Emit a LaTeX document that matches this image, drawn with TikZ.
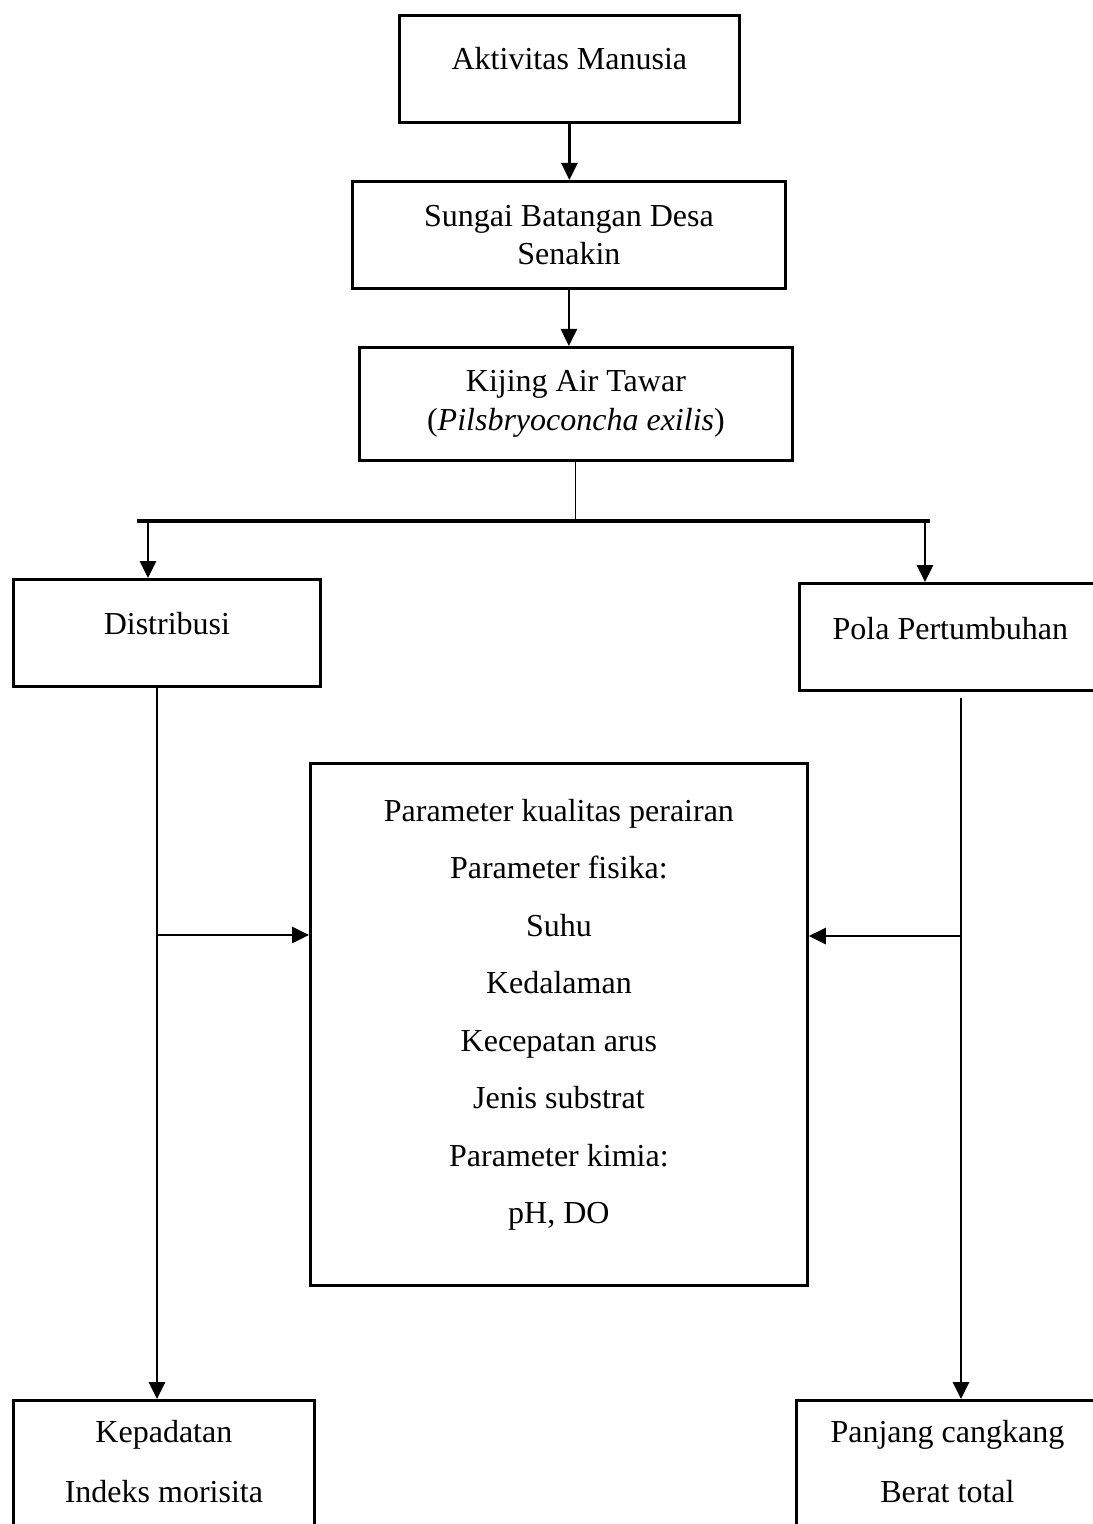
\documentclass[tikz,border=0pt]{standalone}
\usepackage{fontspec}
\setmainfont{Liberation Serif}
\usetikzlibrary{arrows.meta}
\usetikzlibrary{positioning}
\tikzset{
  % boxes of the scheme
  box/.style = {
    draw = black,
    line width = 1.4pt,
    rectangle,
    anchor = north west,
    inner sep = 0pt,
    align = center,
    font = \fontsize{16}{19}\selectfont
  },
  % path style with an arrow at its end
  arr/.style = {
    draw = black,
    line width = 1.4pt,
    -{Triangle[length=8.5pt,width=8pt]}
  },
  % path style with no arrows
  narr/.style = {
    draw = black,
    line width = 1.4pt
  },
  bar/.style = {
    draw = black,
    line width = 2pt
  }
}

\begin{document}
\begin{tikzpicture}[x=0.5pt, y=-0.5pt]
    \useasboundingbox (0,0) rectangle (1092,1524);

    \node[box, minimum width=170pt, minimum height=53.5pt, text depth=10.5pt]
      (aktivitas) at (398,14) {Aktivitas Manusia};
    \node[box, minimum width=216.5pt, minimum height=53.5pt]
      (sungai) at (351,180) {Sungai Batangan Desa\\Senakin};
    \node[box, minimum width=216.5pt, minimum height=56.5pt, font=\fontsize{16}{19.5}\selectfont]
      (kijing) at (358,346) {Kijing Air Tawar\\(\textit{Pilsbryoconcha exilis})};
    \node[box, minimum width=153.5pt, minimum height=53.5pt, text depth=10pt]
      (distribusi) at (12,578) {Distribusi};
    \node[box, minimum width=151pt, minimum height=53.5pt, text depth=8.5pt]
      (pola) at (798,582) {Pola Pertumbuhan};
    \node[box, minimum width=248.5pt, minimum height=261pt, text depth=13pt,
      font=\fontsize{16}{28.75}\selectfont]
      (param) at (309,762) {Parameter kualitas perairan\\Parameter fisika:\\Suhu\\Kedalaman\\Kecepatan arus\\Jenis substrat\\Parameter kimia:\\pH, DO};
    \node[box, minimum width=150.5pt, minimum height=75pt, text depth=14pt,
      font=\fontsize{16}{30}\selectfont]
      (kepadatan) at (12,1399) {Kepadatan\\Indeks morisita};
    \node[box, minimum width=151pt, minimum height=75pt, text depth=14pt,
      font=\fontsize{16}{30}\selectfont]
      (panjang) at (795,1399) {Panjang cangkang\\Berat total};

    \coordinate (split) at (574,521);
    \coordinate (bar-left) at (137,521);
    \coordinate (bar-right) at (930,521);
    \coordinate (to-distribusi) at (148,521);
    \coordinate (to-pola) at (925,521);
    \coordinate (left-top) at (157,685);
    \coordinate (left-mid) at (157,935);
    \coordinate (right-top) at (961,698);
    \coordinate (right-mid) at (961,936);

    \draw[arr] (aktivitas.south) -- (aktivitas.south |- sungai.north);
    \draw[arr] (sungai.south) -- (sungai.south |- kijing.north);
    \draw[line width=0.5pt] (kijing.south) -- (kijing.south |- split);
    \draw[bar] (bar-left) -- (bar-right);
    \draw[arr] (to-distribusi) -- (to-distribusi |- distribusi.north);
    \draw[arr] (to-pola) -- (to-pola |- pola.north);

    \draw[arr] (left-top) -- (left-top |- kepadatan.north);
    \draw[arr] (left-mid) -- (left-mid -| param.west);
    \draw[arr] (right-top) -- (right-top |- panjang.north);
    \draw[arr] (right-mid) -- (right-mid -| param.east);

  \end{tikzpicture}
\end{document}
